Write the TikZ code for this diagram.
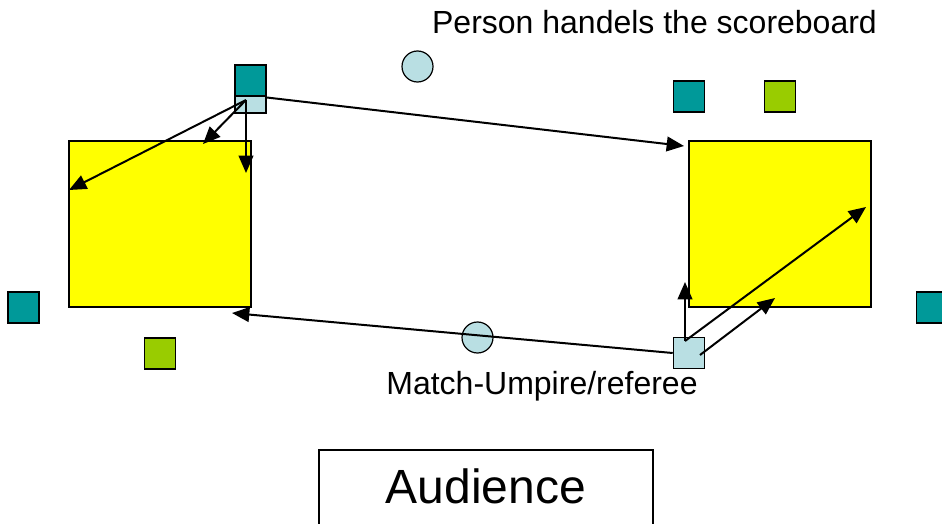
\documentclass[tikz,border=0pt]{standalone}
\usepackage{fontspec}
\setmainfont{Liberation Sans}
\usetikzlibrary{arrows.meta, positioning, calc}
\definecolor{courtyellow}{HTML}{FFFF00}
\definecolor{playerteal}{HTML}{009999}
\definecolor{playergreen}{HTML}{99CC00}
\definecolor{judgeblue}{HTML}{B9DFE3}

\begin{document}
\begin{tikzpicture}[x=0.75pt, y=-0.75pt]
    % Define styles
    \tikzset{
        court/.style={
            rectangle,
            minimum width=136.5pt,
            minimum height=124.5pt,
            draw=black,
            line width=1.1pt,
            fill=courtyellow,
            anchor=center
        },
        player/.style={
            rectangle,
            minimum size=23.25pt,
            inner sep=0pt,
            draw=black,
            line width=1.2pt,
            anchor=center
        },
        official/.style={
            circle,
            minimum size=23.25pt,
            inner sep=0pt,
            draw=black,
            line width=0.9pt,
            fill=judgeblue
        },
        arrow style/.style={-{Triangle[length=13pt, width=11pt]}, line width=1.5pt},
        label style/.style={font=\fontsize{24}{28}\selectfont}
    }
    \useasboundingbox (0,0) rectangle (942,524);

    % Two courts
    \node[court] (courtL) at (160,224) {};
    \node[court] (courtR) at (780,224) {};

    % Players around the courts
    \node[player, fill=judgeblue] (lineL) at (250.5,97.5) {};
    \node[player, fill=playerteal] (tealTL) at (250.5,80.5) {};
    \node[player, fill=playerteal] (tealTR) at (689,96.5) {};
    \node[player, fill=playergreen] (greenTR) at (780,96.5) {};
    \node[player, fill=playerteal] (tealL) at (23.5,307.5) {};
    \node[player, fill=playergreen] (greenL) at (160,353.5) {};
    \node[player, fill=playerteal] (tealR) at (932,307.5) {};
    \node[player, fill=judgeblue] (lineR) at (689,353) {};

    % Officials
    \node[official] (scorer) at (417.5,66.5) {};
    \node[official] (umpire) at (477.5,337.5) {};

    % Labels
    \node[label style] (scorerText) at (654.5,22) {Person handels the scoreboard};
    \node[label style] (umpireText) at (542,386) {Match-Umpire/referee};
    \node[draw=black, line width=1.5pt, minimum width=250.5pt, inner ysep=8pt,
          text height=31.75pt, text depth=60pt, anchor=north,
          font=\fontsize{36}{40}\selectfont] (audience) at (486,449) {Audience};

    % Throw points
    \coordinate (throwL) at (246,100);
    \coordinate (throwR) at (685,341);
    \coordinate (passR) at (700,355);
    \coordinate (leftHit) at (69,190);
    \coordinate (leftMid) at (203,144);
    \coordinate (leftNet) at (246,173);
    \coordinate (rightTop) at (684,146);
    \coordinate (rightUp) at (685,282);
    \coordinate (rightFar) at (866,207);
    \coordinate (rightNear) at (775,298);
    \coordinate (leftLow) at (232,313);

    % Arrows on the left court
    \draw[arrow style] (throwL) -- (leftHit);
    \draw[arrow style] (throwL) -- (leftMid);
    \draw[arrow style] (throwL) -- (leftNet);
    \draw[arrow style] (lineL.east) -- (rightTop);

    % Arrows on the right court
    \draw[arrow style] (throwR) -- (rightUp);
    \draw[arrow style] (throwR) -- (rightFar);
    \draw[arrow style] (passR) -- (rightNear);
    \draw[arrow style] (lineR.west) -- (leftLow);

\end{tikzpicture}
\end{document}
